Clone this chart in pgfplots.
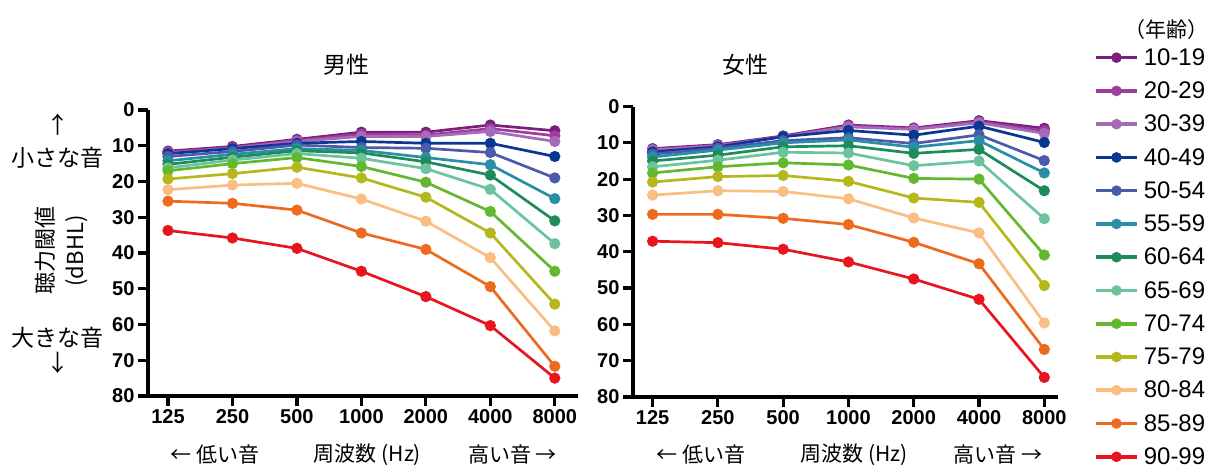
\documentclass[border=0pt]{standalone}
\usepackage{pgfplots}
\pgfplotsset{compat=1.18}
\usepackage{fontspec}
\setmainfont{Liberation Sans}
\newfontfamily\jp{Noto Sans CJK JP}

\definecolor{cA}{HTML}{7B1F7E}
\definecolor{cB}{HTML}{A03C9E}
\definecolor{cC}{HTML}{A56BB8}
\definecolor{cD}{HTML}{0A3791}
\definecolor{cE}{HTML}{4B5AAA}
\definecolor{cF}{HTML}{2A8FA6}
\definecolor{cG}{HTML}{1E8C5A}
\definecolor{cH}{HTML}{6CC49E}
\definecolor{cI}{HTML}{62B82E}
\definecolor{cJ}{HTML}{B5B81C}
\definecolor{cK}{HTML}{FBBE82}
\definecolor{cL}{HTML}{EE6A1E}
\definecolor{cM}{HTML}{E8141E}

\pgfplotsset{
  hearing/.style={
    scale only axis,
    y dir=reverse, ymin=0, ymax=80, ytick={0,10,...,80},
    xtick={0,...,6}, xticklabels={125,250,500,1000,2000,4000,8000},
    axis x line*=bottom, axis y line*=left,
    axis line style={-, line width=3.2pt},
    tick style={line width=3.2pt, black},
    major tick length=10pt, tick align=outside,
    ticklabel style={font=\fontsize{20}{20}\bfseries\selectfont},
    /pgf/number format/assume math mode=true,
    every axis plot/.append style={line width=2.7pt, mark=*, mark size=4.2pt},
    clip=false,
    legend image code/.code={
      \draw[mark repeat=2,mark phase=2,#1,line width=3.6pt,mark size=3.4pt] plot coordinates {(0pt,0pt) (20.5pt,0pt) (41pt,0pt)};
    },
  },
}

\begin{document}
\begin{tikzpicture}
\useasboundingbox (0,0) rectangle (1210pt,466pt);

% male
\begin{axis}[hearing, at={(148pt,70pt)}, anchor=south west,
  width=430pt, height=286pt, xmin=-0.31, xmax=6.36]
\addplot[cA] coordinates {(0,11.5) (1,10.2) (2,8.2) (3,6.2) (4,6.2) (5,4.2) (6,5.8)};
\addplot[cB] coordinates {(0,11.8) (1,10.5) (2,8.5) (3,6.8) (4,7.0) (5,5.2) (6,7.2)};
\addplot[cC] coordinates {(0,12.0) (1,10.7) (2,8.8) (3,7.4) (4,7.4) (5,6.0) (6,8.8)};
\addplot[cD] coordinates {(0,12.2) (1,10.8) (2,9.3) (3,8.8) (4,9.3) (5,9.3) (6,13.0)};
\addplot[cE] coordinates {(0,13.0) (1,11.6) (2,9.8) (3,10.5) (4,10.7) (5,11.9) (6,19.0)};
\addplot[cF] coordinates {(0,14.2) (1,12.4) (2,10.8) (3,11.3) (4,13.3) (5,15.3) (6,24.8)};
\addplot[cG] coordinates {(0,15.2) (1,13.2) (2,11.4) (3,12.0) (4,14.5) (5,18.2) (6,31.0)};
\addplot[cH] coordinates {(0,16.2) (1,14.0) (2,12.2) (3,13.5) (4,16.4) (5,22.2) (6,37.4)};
\addplot[cI] coordinates {(0,17.0) (1,15.0) (2,13.3) (3,15.8) (4,20.2) (5,28.4) (6,45.1)};
\addplot[cJ] coordinates {(0,19.3) (1,17.8) (2,16.0) (3,19.0) (4,24.4) (5,34.4) (6,54.3)};
\addplot[cK] coordinates {(0,22.3) (1,21.0) (2,20.5) (3,24.9) (4,31.1) (5,41.3) (6,61.8)};
\addplot[cL] coordinates {(0,25.5) (1,26.1) (2,28.0) (3,34.4) (4,39.0) (5,49.4) (6,71.7)};
\addplot[cM] coordinates {(0,33.7) (1,35.8) (2,38.7) (3,45.1) (4,52.2) (5,60.3) (6,75.0)};
\end{axis}

% female
\begin{axis}[hearing, at={(633pt,69pt)}, anchor=south west,
  width=425pt, height=290.5pt, xmin=-0.30, xmax=6.21,
  legend cell align=left,
  legend style={at={(1.0847,1.2072)}, anchor=north west, draw=none, fill=none,
    inner sep=0pt, row sep=11pt, column sep=3pt,
    font=\fontsize{24}{24}\selectfont}]
\addplot[cA] coordinates {(0,11.6) (1,10.5) (2,8.1) (3,5.1) (4,5.9) (5,3.9) (6,6.0)};
\addplot[cB] coordinates {(0,11.8) (1,10.7) (2,8.3) (3,5.4) (4,6.1) (5,4.2) (6,6.7)};
\addplot[cC] coordinates {(0,12.0) (1,10.8) (2,8.3) (3,5.6) (4,6.3) (5,4.5) (6,7.4)};
\addplot[cD] coordinates {(0,12.5) (1,11.1) (2,8.3) (3,6.6) (4,7.9) (5,5.4) (6,9.9)};
\addplot[cE] coordinates {(0,13.1) (1,11.5) (2,9.4) (3,8.6) (4,10.2) (5,7.8) (6,14.9)};
\addplot[cF] coordinates {(0,13.9) (1,12.0) (2,10.0) (3,9.2) (4,11.2) (5,9.4) (6,18.3)};
\addplot[cG] coordinates {(0,15.0) (1,13.4) (2,11.1) (3,10.8) (4,12.9) (5,11.8) (6,23.2)};
\addplot[cH] coordinates {(0,16.6) (1,14.8) (2,12.6) (3,12.8) (4,16.3) (5,15.0) (6,30.9)};
\addplot[cI] coordinates {(0,18.3) (1,16.6) (2,15.5) (3,16.1) (4,19.8) (5,20.0) (6,40.9)};
\addplot[cJ] coordinates {(0,20.8) (1,19.3) (2,19.0) (3,20.6) (4,25.2) (5,26.4) (6,49.3)};
\addplot[cK] coordinates {(0,24.4) (1,23.2) (2,23.4) (3,25.4) (4,30.7) (5,34.8) (6,59.6)};
\addplot[cL] coordinates {(0,29.7) (1,29.7) (2,30.8) (3,32.5) (4,37.4) (5,43.3) (6,66.9)};
\addplot[cM] coordinates {(0,37.1) (1,37.5) (2,39.3) (3,42.8) (4,47.5) (5,53.1) (6,74.6)};
\legend{10-19,20-29,30-39,40-49,50-54,55-59,60-64,65-69,70-74,75-79,80-84,85-89,90-99}
\end{axis}

% titles and labels
\begin{scope}[every node/.style={inner sep=0pt, font=\jp\fontsize{23}{23}\selectfont}]
\node at (346.5pt,401pt) {男性};
\node at (745.5pt,401pt) {女性};
\node at (58pt,341pt) {↑};
\node at (58pt,308pt) {小さな音};
\node at (58pt,128pt) {大きな音};
\node at (58pt,103pt) {↓};
\node[rotate=90, align=center, font=\jp\fontsize{22}{30}\selectfont] at (61pt,215pt) {聴力閾値\\(dBHL)};
\node[font=\jp\fontsize{21}{21}\selectfont, anchor=east] at (1209pt,436pt) {（年齢）};
\end{scope}
\begin{scope}[every node/.style={inner sep=0pt, font=\jp\fontsize{21}{21}\selectfont}]
\node at (215pt,11pt) {← 低い音};
\node at (367.5pt,11pt) {周波数 (Hz)};
\node at (512.5pt,11pt) {高い音 →};
\node at (701pt,11pt) {← 低い音};
\node at (854pt,11pt) {周波数 (Hz)};
\node at (998pt,11pt) {高い音 →};
\end{scope}
\end{tikzpicture}
\end{document}
